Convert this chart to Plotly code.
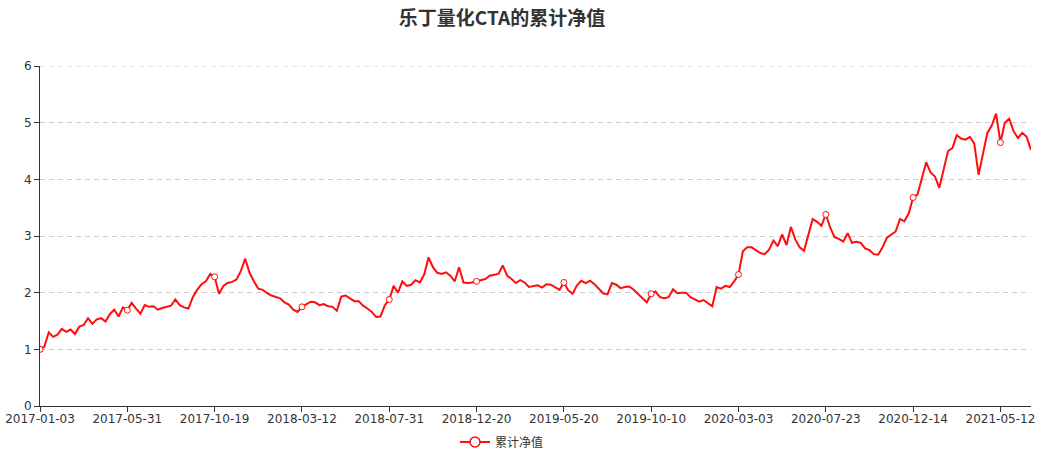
import pandas as pd
import plotly.graph_objects as go

TITLE = "乐丁量化CTA的累计净值"
SERIES_NAME = "累计净值"

# axis tick labels (one every 20 samples of the series)
TICK_LABELS = ["2017-01-03", "2017-05-31", "2017-10-19", "2018-03-12", "2018-07-31",
               "2018-12-20", "2019-05-20", "2019-10-10", "2020-03-03", "2020-07-23",
               "2020-12-14", "2021-05-12"]
TAIL_SAMPLES = 8  # samples from the last labelled date to the end

# cumulative NAV (roughly one reading per week)
VALUES = [
    1.00, 1.05, 1.30, 1.22, 1.26, 1.36, 1.31, 1.35, 1.27, 1.40,
    1.43, 1.55, 1.45, 1.53, 1.55, 1.49, 1.62, 1.70, 1.58, 1.74,
    1.69, 1.82, 1.72, 1.63, 1.78, 1.75, 1.76, 1.70, 1.73, 1.75,
    1.77, 1.88, 1.78, 1.74, 1.72, 1.92, 2.05, 2.15, 2.20, 2.33,
    2.28, 1.98, 2.12, 2.17, 2.19, 2.23, 2.38, 2.60, 2.35, 2.20,
    2.07, 2.05, 1.99, 1.95, 1.93, 1.90, 1.83, 1.79, 1.70, 1.66,
    1.75, 1.80, 1.84, 1.83, 1.78, 1.80, 1.76, 1.75, 1.68, 1.93,
    1.95, 1.90, 1.85, 1.85, 1.77, 1.72, 1.66, 1.57, 1.58, 1.78,
    1.88, 2.12, 2.00, 2.20, 2.12, 2.14, 2.22, 2.18, 2.32, 2.62,
    2.45, 2.35, 2.33, 2.36, 2.30, 2.20, 2.45, 2.18, 2.17, 2.18,
    2.20, 2.21, 2.24, 2.30, 2.31, 2.33, 2.48, 2.30, 2.24, 2.17,
    2.22, 2.18, 2.10, 2.11, 2.13, 2.09, 2.15, 2.14, 2.10, 2.05,
    2.18, 2.04, 1.98, 2.13, 2.21, 2.17, 2.21, 2.15, 2.07, 1.99,
    1.97, 2.17, 2.14, 2.08, 2.10, 2.11, 2.05, 1.97, 1.90, 1.83,
    1.98, 2.02, 1.92, 1.90, 1.92, 2.06, 1.99, 2.00, 2.00, 1.92,
    1.88, 1.84, 1.87, 1.82, 1.76, 2.10, 2.07, 2.12, 2.10, 2.20,
    2.32, 2.73, 2.80, 2.80, 2.75, 2.70, 2.68, 2.76, 2.92, 2.82,
    3.03, 2.84, 3.16, 2.94, 2.80, 2.74, 3.02, 3.30, 3.25, 3.18,
    3.38, 3.15, 2.98, 2.95, 2.90, 3.05, 2.88, 2.90, 2.88, 2.78,
    2.75, 2.68, 2.67, 2.80, 2.97, 3.02, 3.08, 3.30, 3.26, 3.40,
    3.68, 3.73, 4.00, 4.30, 4.12, 4.05, 3.85, 4.15, 4.50, 4.55,
    4.78, 4.72, 4.70, 4.75, 4.63, 4.08, 4.45, 4.82, 4.95, 5.16,
    4.65, 5.00, 5.07, 4.85, 4.73, 4.82, 4.75, 4.52,
]
Y_TICKS = [0, 1, 2, 3, 4, 5, 6]

# category labels for the samples
dates = []
for a, b in zip(TICK_LABELS[:-1], TICK_LABELS[1:]):
    rng = pd.date_range(a, b, periods=21)[:-1]
    dates.extend(d.strftime("%Y-%m-%d") for d in rng)
dates.extend(d.strftime("%Y-%m-%d")
             for d in pd.date_range(TICK_LABELS[-1], periods=TAIL_SAMPLES, freq="7D"))
dates = dates[:len(VALUES)]

RED = "#ff0d0d"
CJK = "Noto Sans CJK SC, Noto Sans, sans-serif"
LABEL = "DejaVu Sans, Noto Sans CJK SC, sans-serif"

W, H = 1040, 454
L, R, T, B = 40, 9, 66, 48

fig = go.Figure()
fig.add_trace(go.Scatter(
    x=dates, y=VALUES, mode="lines", name=SERIES_NAME, showlegend=False,
    line=dict(color=RED, width=2), hoverinfo="x+y"))
fig.add_trace(go.Scatter(
    x=dates[::20], y=VALUES[::20], mode="markers", showlegend=False,
    marker=dict(symbol="circle", size=6, color="white", line=dict(color=RED, width=1)),
    hoverinfo="skip"))
fig.add_trace(go.Scatter(
    x=[None], y=[None], mode="lines+markers", name=SERIES_NAME,
    line=dict(color=RED, width=2),
    marker=dict(symbol="circle", size=10, color="white", line=dict(color=RED, width=1.5))))

# dashed grid line at the top of the value axis (Plotly hides grid lines on the plot edge)
fig.add_shape(type="line", xref="paper", x0=0, x1=1, yref="y", y0=Y_TICKS[-1], y1=Y_TICKS[-1],
              line=dict(color="#cccccc", width=1, dash="5px,4px"), layer="below")

fig.update_layout(
    width=W, height=H,
    margin=dict(l=L, r=R, t=T, b=B, autoexpand=False),
    paper_bgcolor="white", plot_bgcolor="white",
    font=dict(family=LABEL, size=12, color="#333"),
    title=dict(text=TITLE, x=502 / W, xanchor="center", xref="container",
               y=1 - 18 / H, yref="container", yanchor="middle",
               font=dict(family=CJK, size=19, color="#333", weight="bold")),
    legend=dict(orientation="h", x=502 / W, xanchor="center", xref="container",
                y=1 - 442 / H, yref="container", yanchor="middle",
                font=dict(family=CJK, size=12, color="#333"),
                itemwidth=30, bgcolor="rgba(0,0,0,0)"),
    showlegend=True,
    hovermode="closest",
)
fig.update_xaxes(
    type="category", range=[0, len(VALUES) - 1], automargin=False,
    tickmode="array", tickvals=TICK_LABELS, ticktext=TICK_LABELS,
    showline=True, linecolor="#333", linewidth=1,
    ticks="outside", ticklen=5, tickcolor="#333", ticklabelstandoff=-3,
    showgrid=False, zeroline=False,
    tickfont=dict(family=LABEL, size=12, color="#333"))
fig.update_yaxes(
    range=[Y_TICKS[0], Y_TICKS[-1]], tickmode="array", tickvals=Y_TICKS, automargin=False,
    showline=True, linecolor="#333", linewidth=1,
    ticks="outside", ticklen=5, tickcolor="#333",
    showgrid=True, gridcolor="#cccccc", griddash="5px,4px", gridwidth=1,
    zeroline=False,
    tickfont=dict(family=LABEL, size=12, color="#333"))

fig.write_html(
    "out.html",
    config={"displayModeBar": False},
    post_script="document.body.style.margin='0';document.body.style.overflow='hidden';")
